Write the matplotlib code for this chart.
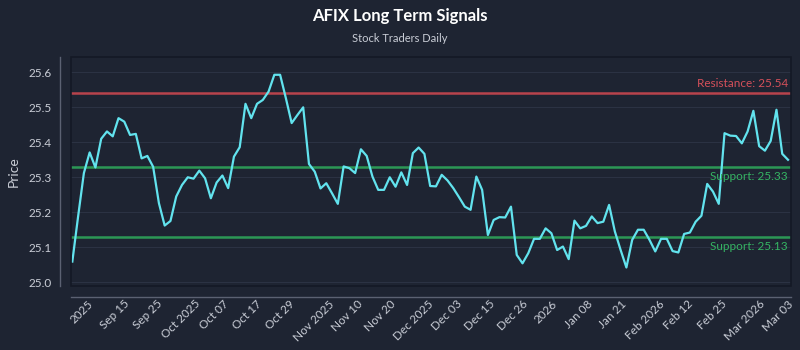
import matplotlib
matplotlib.use("Agg")
import matplotlib.pyplot as plt
from matplotlib.patches import Rectangle
import numpy as np

prices = [
    25.059, 25.188, 25.312, 25.371, 25.328, 25.410, 25.431, 25.417, 25.469, 25.459,
    25.421, 25.424, 25.354, 25.361, 25.330, 25.226, 25.162, 25.175, 25.245, 25.278,
    25.300, 25.296, 25.319, 25.297, 25.240, 25.285, 25.305, 25.269, 25.359, 25.386,
    25.510, 25.469, 25.510, 25.521, 25.545, 25.593, 25.593, 25.526, 25.455, 25.478,
    25.500, 25.338, 25.316, 25.268, 25.283, 25.254, 25.224, 25.331, 25.326, 25.312,
    25.380, 25.361, 25.302, 25.264, 25.264, 25.300, 25.273, 25.314, 25.278, 25.369,
    25.385, 25.367, 25.275, 25.274, 25.307, 25.291, 25.269, 25.243, 25.216, 25.207,
    25.302, 25.264, 25.135, 25.178, 25.186, 25.185, 25.216, 25.078, 25.054, 25.083,
    25.124, 25.124, 25.154, 25.140, 25.092, 25.102, 25.066, 25.176, 25.154, 25.161,
    25.188, 25.169, 25.173, 25.221, 25.145, 25.092, 25.042, 25.121, 25.150, 25.150,
    25.121, 25.088, 25.124, 25.124, 25.089, 25.085, 25.138, 25.142, 25.173, 25.190,
    25.281, 25.259, 25.224, 25.426, 25.419, 25.418, 25.397, 25.431, 25.490, 25.389,
    25.376, 25.404, 25.493, 25.367, 25.350,
]

resistance = 25.54
supports = [25.33, 25.13]

tick_labels = ["2025", "Sep 15", "Sep 25", "Oct 2025", "Oct 07", "Oct 17", "Oct 29",
               "Nov 2025", "Nov 10", "Nov 20", "Dec 2025", "Dec 03", "Dec 15", "Dec 26",
               "2026", "Jan 08", "Jan 21", "Feb 2026", "Feb 12", "Feb 25", "Mar 2026",
               "Mar 03"]
yticks = [25.0, 25.1, 25.2, 25.3, 25.4, 25.5, 25.6]

BG = "#1e2432"
TXT = "#c9cdd6"
plt.rcParams['font.family'] = ['Lato', 'DejaVu Sans']

fig = plt.figure(figsize=(8, 3.5), dpi=100, facecolor=BG)
ax = fig.add_axes([0.0884, 0.1837, 0.9, 0.6526])
ax.set_facecolor(BG)

x = np.arange(len(prices))
n = len(prices)

for y in yticks:
    ax.axhline(y, color="#2b3243", lw=0.8, zorder=0)

ax.axhline(resistance, color="#c9474f", lw=1.8, alpha=0.9, zorder=1)
for s in supports:
    ax.axhline(s, color="#2ea55a", lw=1.8, alpha=0.9, zorder=1)

ax.plot(x, prices, color="#62e3ee", lw=1.6, zorder=3)

ax.set_xlim(-0.28, n - 1 + 0.47)
ax.set_ylim(24.99, 25.643)

ax.text(n - 1, resistance + 0.012, f"Resistance: {resistance:.2f}", color="#d4505a",
        ha="right", va="bottom", fontsize=8.5)
for s in supports:
    ax.text(n - 1, s - 0.012, f"Support: {s:.2f}", color="#35b463",
            ha="right", va="top", fontsize=8.5)

tick_pos = np.linspace(1.6, n - 2.7, len(tick_labels))
ax.set_xticks(tick_pos)
ax.set_xticklabels(tick_labels)
ax.set_yticks(yticks)
ax.set_yticklabels([f"{v:.1f}" for v in yticks])
ax.tick_params(axis="both", length=0, colors=TXT, labelsize=8.5)
ax.tick_params(axis="y", pad=6)
ax.tick_params(axis="x", pad=1, labelrotation=45)
for lbl in ax.get_xticklabels():
    lbl.set_ha("right")
    lbl.set_rotation_mode("default")

for side in ["top", "right"]:
    ax.spines[side].set_visible(False)
for side in ["left", "bottom"]:
    ax.spines[side].set_position(("outward", 8))
    ax.spines[side].set_color("#5b6172")
    ax.spines[side].set_linewidth(1.0)

ax.add_patch(Rectangle((0, 0), 1, 1, transform=ax.transAxes, fill=False,
                       edgecolor="#141925", lw=1.2, zorder=5, clip_on=False))

ax.set_ylabel("Price", color=TXT, fontsize=10, labelpad=6)

fig.text(0.5, 0.955, "AFIX Long Term Signals", color="white", fontsize=12,
         fontweight="bold", ha="center", va="center")
fig.text(0.5, 0.89, "Stock Traders Daily", color=TXT, fontsize=8,
         ha="center", va="center")

fig.savefig("out.png", dpi=100, facecolor=BG)
